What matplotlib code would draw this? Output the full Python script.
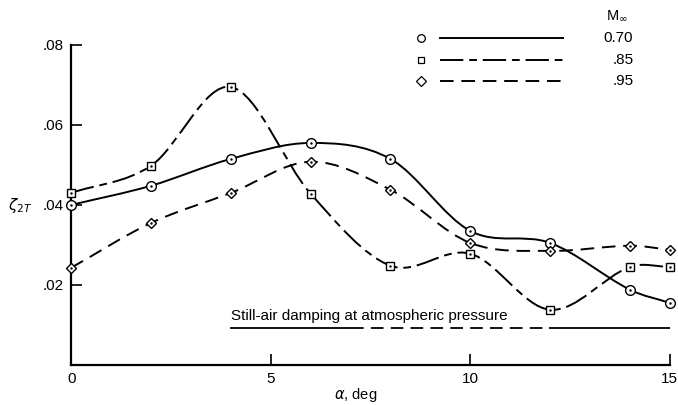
import numpy as np
import matplotlib
matplotlib.use('Agg')
import matplotlib.pyplot as plt
from matplotlib.path import Path
from matplotlib.patches import PathPatch

plt.rcParams['font.family'] = ['Liberation Sans', 'DejaVu Sans']

# angle of attack, deg
alpha = [0, 2, 4, 6, 8, 10, 12, 14, 15]
# damping ratio for each Mach number
zeta_070 = [0.0400, 0.0448, 0.0515, 0.0555, 0.0515, 0.0335, 0.0305, 0.0188, 0.0155]
zeta_085 = [0.0430, 0.0498, 0.0695, 0.0428, 0.0248, 0.0278, 0.0138, 0.0245, 0.0245]
zeta_095 = [0.0243, 0.0355, 0.0430, 0.0508, 0.0438, 0.0305, 0.0285, 0.0298, 0.0288]
mach_labels = ['0.70', '.85', '.95']
still_air = 0.0093
still_air_range = [4, 15]

x_ticks = [0, 5, 10, 15]
y_ticks = [0.02, 0.04, 0.06, 0.08]
y_ticklabels = ['.02', '.04', '.06', '.08']


def smooth_path(x, y):
    # catmull-rom through the points, turned into cubic bezier segments
    pts = np.column_stack([x, y]).astype(float)
    n = len(pts)
    verts = [pts[0]]
    codes = [Path.MOVETO]
    for i in range(n - 1):
        p0 = pts[i - 1] if i > 0 else pts[i]
        p1 = pts[i]
        p2 = pts[i + 1]
        p3 = pts[i + 2] if i + 2 < n else pts[i + 1]
        h = p2[0] - p1[0]
        m1 = (p2 - p0) / (p2[0] - p0[0] if p2[0] != p0[0] else 1) * h
        m2 = (p3 - p1) / (p3[0] - p1[0] if p3[0] != p1[0] else 1) * h
        verts += [p1 + m1 / 3, p2 - m2 / 3, p2]
        codes += [Path.CURVE4] * 3
    return Path(verts, codes)


fig = plt.figure(figsize=(6.78, 4.05), dpi=100)
ax = fig.add_axes([0.105, 0.099, 0.883, 0.79])

series = [
    (zeta_070, 'o', 7, '-'),
    (zeta_085, 's', 6, (0, (12, 3, 4, 3))),
    (zeta_095, 'D', 5.5, (0, (7, 4))),
]

for vals, mk, ms, ls in series:
    patch = PathPatch(smooth_path(alpha, vals), fill=False, lw=1.4,
                      ls=ls, color='black', zorder=2)
    ax.add_patch(patch)
    ax.plot(alpha, vals, mk, ms=ms, mfc='white', mec='black', mew=1.0,
            ls='none', zorder=3, clip_on=False)
    ax.plot(alpha, vals, '.', ms=1.5, color='black', zorder=4, clip_on=False)

# still-air damping line
ax.plot([still_air_range[0], 7], [still_air] * 2, color='black', lw=1.3)
ax.plot([7, 12], [still_air] * 2, color='black', lw=1.3, ls=(0, (7, 4)))
ax.plot([12, still_air_range[1]], [still_air] * 2, color='black', lw=1.3)
ax.text(4, still_air + 0.0013, 'Still-air damping at atmospheric pressure',
        fontsize=11, va='bottom', ha='left')

ax.set_xlim(0, 15)
ax.set_ylim(0, 0.08)
ax.set_xticks(x_ticks)
ax.set_xticklabels([str(t) for t in x_ticks])
ax.set_yticks(y_ticks)
ax.set_yticklabels(y_ticklabels)
ax.tick_params(direction='in', length=8, width=1.2, labelsize=11, pad=5)
ax.spines['top'].set_visible(False)
ax.spines['right'].set_visible(False)
ax.spines['left'].set_linewidth(1.6)
ax.spines['bottom'].set_linewidth(1.6)

ax.set_xlabel(r'$\alpha$, deg', fontsize=10.5, labelpad=4)
ax.xaxis.set_label_coords(0.475, -0.065)
fig.text(0.012, 0.492, r'$\zeta_{2T}$', fontsize=11, ha='left', va='center')

# hand drawn legend in the upper right
leg_y = [0.906, 0.852, 0.800]
leg_styles = [('o', 5.5, '-'), ('s', 5, (0, (12, 3, 4, 3))), ('D', 5, (0, (7, 4)))]
fig.text(0.91, 0.962, r'M$_\infty$', fontsize=10.5, ha='center', va='center')
for yy, (mk, ms, ls), lab in zip(leg_y, leg_styles, mach_labels):
    fig.lines.append(plt.Line2D([0.621], [yy], marker=mk, ms=ms, mfc='white',
                                mec='black', mew=0.9, ls='none',
                                transform=fig.transFigure))
    fig.lines.append(plt.Line2D([0.649, 0.830], [yy, yy], color='black', lw=1.4,
                                ls=ls, transform=fig.transFigure))
    fig.text(0.934, yy, lab, fontsize=11, ha='right', va='center')

fig.savefig('out.png', dpi=100)
